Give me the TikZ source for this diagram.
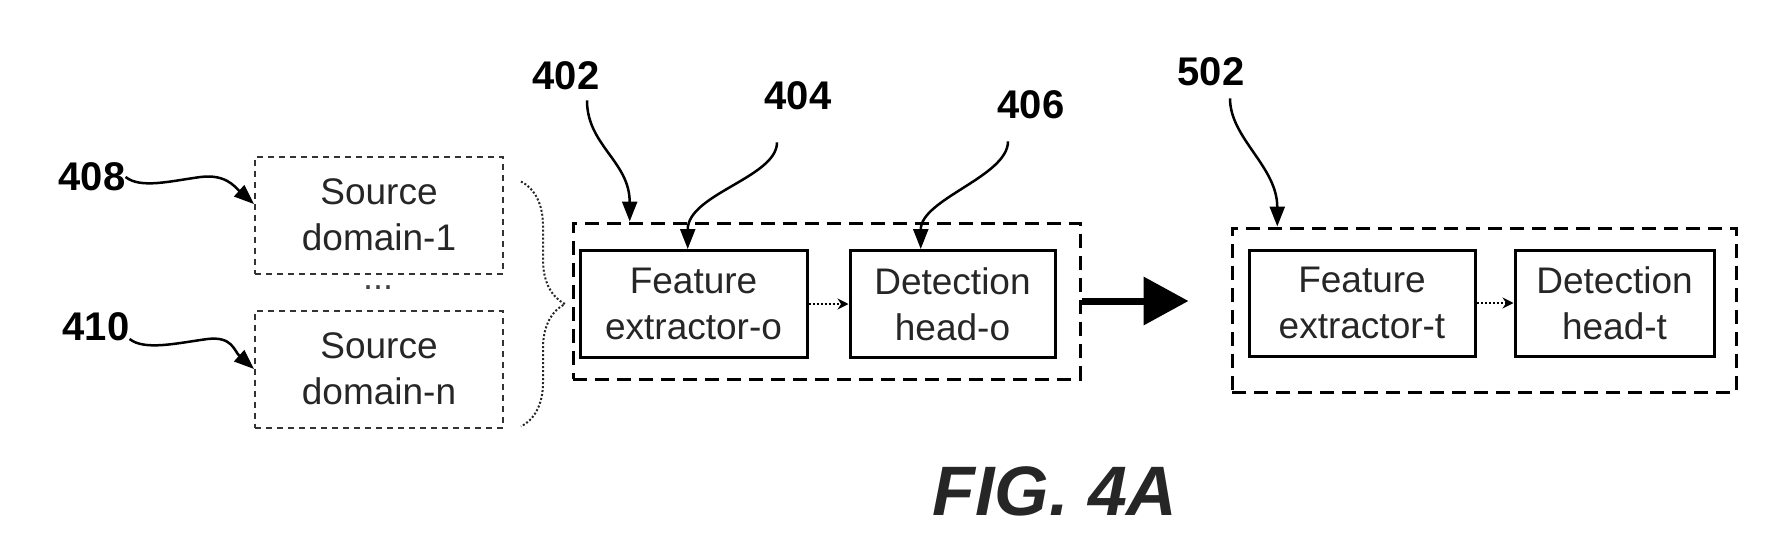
\documentclass[tikz,border=0pt]{standalone}
\usepackage{fontspec}
\setmainfont{Liberation Sans}
\usetikzlibrary{positioning, arrows.meta, decorations.pathreplacing}

\begin{document}
\begin{tikzpicture}[
    x=1pt, y=-1pt,
    node distance=40pt,
    txt/.style={align=center, inner sep=0pt, text=black!85,
      font=\fontsize{37}{46}\selectfont},
    src/.style={txt, draw=black!80, line width=2pt, dash pattern=on 6pt off 5pt,
      minimum width=248pt, minimum height=117pt},
    blk/.style={txt, draw, line width=3pt, minimum width=227pt, minimum height=107pt},
    grp/.style={draw, line width=3pt, dash pattern=on 14pt off 8pt, inner sep=0pt},
    num/.style={inner sep=0pt, font=\bfseries\fontsize{40}{40}\selectfont},
    callout/.style={line width=2.5pt, -{Triangle[length=20pt, width=15pt]}},
    link/.style={dotted, line width=2pt, -{Stealth[length=11pt, width=11pt]}},
    bigarr/.style={line width=7pt, -{Triangle[length=45pt, width=47pt]}},
    brc/.style={dotted, line width=2pt, draw=black!85,
      decorate, decoration={brace, amplitude=44pt}}
  ]
    \useasboundingbox (0,0) rectangle (1791,552);

    % source domains
    \node[src] (src1) at (379,215) {Source\\domain-1};
    \node[src, below=35pt of src1] (srcn) {Source\\domain-n};
    \node[inner sep=0pt, text=black!75, font=\fontsize{36}{36}\selectfont]
      (dots) at (378,288) {...};
    \draw[brc] ([xshift=17pt,yshift=-26pt]src1.north east)
      -- ([xshift=17pt,yshift=2pt]srcn.south east);

    % original model
    \node[grp, minimum width=507pt, minimum height=156pt] (go) at (826.5,301) {};
    \node[blk] (feo) at (693.5,304) {Feature\\extractor-o};
    \node[blk, minimum width=205pt, right=of feo] (dho) {Detection\\head-o};
    \draw[link] (feo) -- (dho);

    % target model
    \node[grp, minimum width=504pt, minimum height=164pt] (gt) at (1484,310) {};
    \node[blk, minimum width=226pt, minimum height=106pt] (fet) at (1362,303)
      {Feature\\extractor-t};
    \node[blk, minimum width=199pt, minimum height=106pt, right=37pt of fet] (dht)
      {Detection\\head-t};
    \draw[link] (fet) -- (dht);

    \draw[bigarr, shorten >=42pt] (go.east) -- (go.east -| gt.west);

    % reference numerals
    \node[num] (l408) at (92,177) {408};
    \node[num] (l410) at (96,327) {410};
    \node[num] (l402) at (566,76) {402};
    \node[num] (l404) at (798,96) {404};
    \node[num] (l406) at (1031,105) {406};
    \node[num] (l502) at (1211,72) {502};

    \draw[callout] (l408.east) .. controls +(15,12) and +(-30,4) .. ++(75,0)
      .. controls +(25,-3) and +(-20,-18) .. (src1.175);
    \draw[callout] ([yshift=-12pt]l410.east) .. controls +(15,12) and +(-30,4) .. ++(78,0)
      .. controls +(25,-3) and +(-20,-18) .. (srcn.west);
    \draw[callout] ([xshift=21pt,yshift=-10pt]l402.south) .. controls +(0,45) and +(0,-60) .. (go.158);
    \draw[callout] ([xshift=-21pt,yshift=-32pt]l404.south) .. controls +(0,35) and +(0,-55) .. (feo.96);
    \draw[callout] ([xshift=-23pt,yshift=-22pt]l406.south) .. controls +(0,35) and +(0,-50) .. (dho.120);
    \draw[callout] ([xshift=19pt,yshift=-12pt]l502.south) .. controls +(0,40) and +(0,-60) .. (gt.158);

    \node[inner sep=0pt, text=black!85, font=\bfseries\itshape\fontsize{70}{70}\selectfont]
      (fig) at (1055,491) {FIG. 4A};
\end{tikzpicture}
\end{document}
